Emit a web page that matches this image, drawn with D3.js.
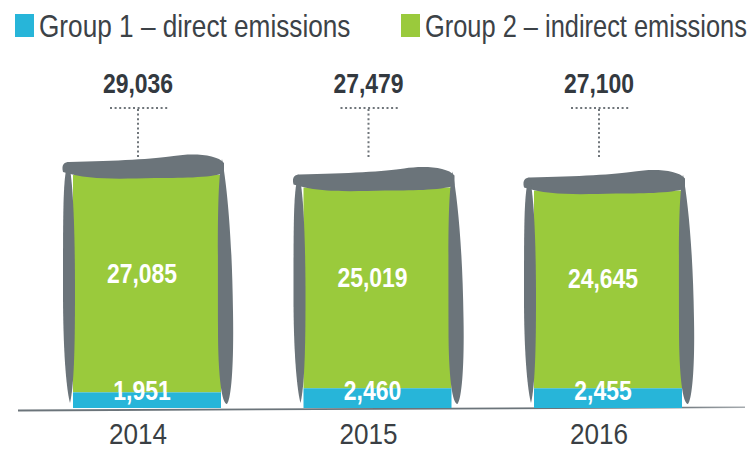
<!DOCTYPE html>
<html>
<head>
<meta charset="utf-8">
<script src="https://cdn.jsdelivr.net/npm/d3@7"></script>
<style>
  html, body { margin: 0; padding: 0; background: #ffffff; }
  svg text { font-family: "Liberation Sans", Arial, sans-serif; }
</style>
</head>
<body>
<svg id="chart" width="749" height="451"></svg>
<script>
// Emission data (tonnes CO2e) per reporting year
const years = ["2014", "2015", "2016"];
const directEmissions = [1951, 2460, 2455];      // Group 1
const indirectEmissions = [27085, 25019, 24645]; // Group 2
const totals = [29036, 27479, 27100];
const seriesNames = ["Group 1 \u2013 direct emissions", "Group 2 \u2013 indirect emissions"];

const COLORS = { direct: "#27b5d9", indirect: "#9aca3c", ink: "#6b747a", text: "#33393f" };
const fmt = d3.format(",");
const NARROW = 0.82; // horizontal squeeze giving a narrow face

const svg = d3.select("#chart");

// narrow text helper
function label(parent, px, py, str, size, opts = {}) {
  return parent.append("text")
    .attr("transform", `translate(${px},${py}) scale(${opts.squeeze || NARROW},1)`)
    .attr("text-anchor", opts.anchor || "middle")
    .attr("font-size", size)
    .attr("font-weight", opts.bold ? "bold" : "normal")
    .attr("fill", opts.fill || COLORS.text)
    .text(str);
}

// Scales
const baseY = 408;
const x = d3.scalePoint().domain(years).range([147, 608]);
const y = d3.scaleLinear().domain([0, 29036]).range([baseY, 175]);
const barW = 148;
const labelDx = -5;

// Legend
const legend = svg.append("g");
const legendItems = [
  { name: seriesNames[0], color: COLORS.direct, x: 15, squeeze: 0.845 },
  { name: seriesNames[1], color: COLORS.indirect, x: 401, squeeze: 0.82 }
];
legendItems.forEach(it => {
  legend.append("rect").attr("x", it.x).attr("y", 14).attr("width", 19).attr("height", 23).attr("fill", it.color);
  label(legend, it.x + 24, 37, it.name, 31, { anchor: "start", fill: "#3c4247", squeeze: it.squeeze });
});

// Baseline rule
const grad = svg.append("defs").append("linearGradient").attr("id", "baseFade")
  .attr("x1", "0").attr("x2", "1").attr("y1", "0").attr("y2", "0");
grad.append("stop").attr("offset", "0").attr("stop-color", COLORS.ink);
grad.append("stop").attr("offset", "0.9").attr("stop-color", COLORS.ink);
grad.append("stop").attr("offset", "1").attr("stop-color", "#a6abaf");
svg.append("path")
  .attr("d", `M18,${baseY + 1.5} L745,${baseY - 1.5} L745,${baseY} L18,${baseY + 3.5} Z`)
  .attr("fill", "url(#baseFade)");

// Hand-drawn outline pieces around each bar
function leftStroke(L, T, B) {
  const m = (T + B) / 2;
  return `M${L - 5},${T - 13}
    C${L - 1},${T - 6} ${L + 2},${T + 40} ${L + 2},${m}
    C${L + 2},${B - 60} ${L + 1},${B - 22} ${L - 3},${B - 5}
    C${L - 7},${B - 20} ${L - 10},${B - 60} ${L - 10},${m}
    C${L - 10},${T + 30} ${L - 10},${T + 2} ${L - 5},${T - 13} Z`;
}
function rightStroke(R, T, B) {
  const m = (T + B) / 2;
  return `M${R + 1},${T - 16}
    C${R + 6},${T + 10} ${R + 11},${T + 60} ${R + 12},${m + 20}
    C${R + 13},${B - 40} ${R + 10},${B - 8} ${R + 6},${B - 4}
    C${R + 1},${B - 4} ${R - 3},${B - 30} ${R - 3},${B - 80}
    C${R - 3},${T + 60} ${R - 4},${T + 10} ${R + 1},${T - 16} Z`;
}
function topBand(L, R, T) {
  const w = R - L;
  return `M${L - 10},${T - 3}
    C${L - 12},${T - 11} ${L - 8},${T - 13} ${L - 4},${T - 13}
    C${L + 0.3 * w},${T - 14} ${L + 0.55 * w},${T - 16} ${L + 0.68 * w},${T - 19}
    C${L + 0.8 * w},${T - 22} ${R - 4},${T - 21} ${R + 3},${T - 12}
    L${R + 3},${T - 2}
    C${R - 10},${T + 3} ${L + 0.7 * w},${T + 3} ${L + 0.55 * w},${T + 3}
    C${L + 0.3 * w},${T + 4} ${L + 0.1 * w},${T + 5} ${L - 10},${T - 3} Z`;
}

const bars = svg.append("g").selectAll("g").data(years).join("g");

bars.each(function (yr, i) {
  const g = d3.select(this);
  const cx = x(yr);
  const L = cx - barW / 2, R = cx + barW / 2;
  const yDirect = y(directEmissions[i]);
  const yTotal = y(directEmissions[i] + indirectEmissions[i]);

  // stacked segments
  g.append("rect").attr("x", L).attr("width", barW)
    .attr("y", yTotal).attr("height", yDirect - yTotal).attr("fill", COLORS.indirect);
  g.append("rect").attr("x", L).attr("width", barW)
    .attr("y", yDirect).attr("height", baseY - yDirect).attr("fill", COLORS.direct);

  // sketchy frame
  g.append("path").attr("d", topBand(L, R, yTotal)).attr("fill", COLORS.ink);
  g.append("path").attr("d", leftStroke(L, yTotal, baseY)).attr("fill", COLORS.ink);
  g.append("path").attr("d", rightStroke(R, yTotal, baseY)).attr("fill", COLORS.ink);

  const lx = cx + labelDx;

  // value labels inside the bar
  label(g, lx, (yTotal + yDirect) / 2 - 1, fmt(indirectEmissions[i]), 28, { bold: true, fill: "#ffffff" });
  label(g, lx, baseY - 8, fmt(directEmissions[i]), 28, { bold: true, fill: "#ffffff" });

  // total with dotted connector
  label(g, lx - 4, 93, fmt(totals[i]), 28, { bold: true });
  g.append("line").attr("x1", lx - 32).attr("x2", lx + 26).attr("y1", 108).attr("y2", 108)
    .attr("stroke", "#6f757a").attr("stroke-width", 2).attr("stroke-dasharray", "2,2.6");
  g.append("line").attr("x1", lx - 4).attr("x2", lx - 4).attr("y1", 109).attr("y2", 158)
    .attr("stroke", "#6f757a").attr("stroke-width", 2).attr("stroke-dasharray", "2,2.6");

  // year label
  label(g, lx - 4, 444, yr, 29, { fill: "#3a3f44", squeeze: 0.9 });
});
</script>
</body>
</html>
